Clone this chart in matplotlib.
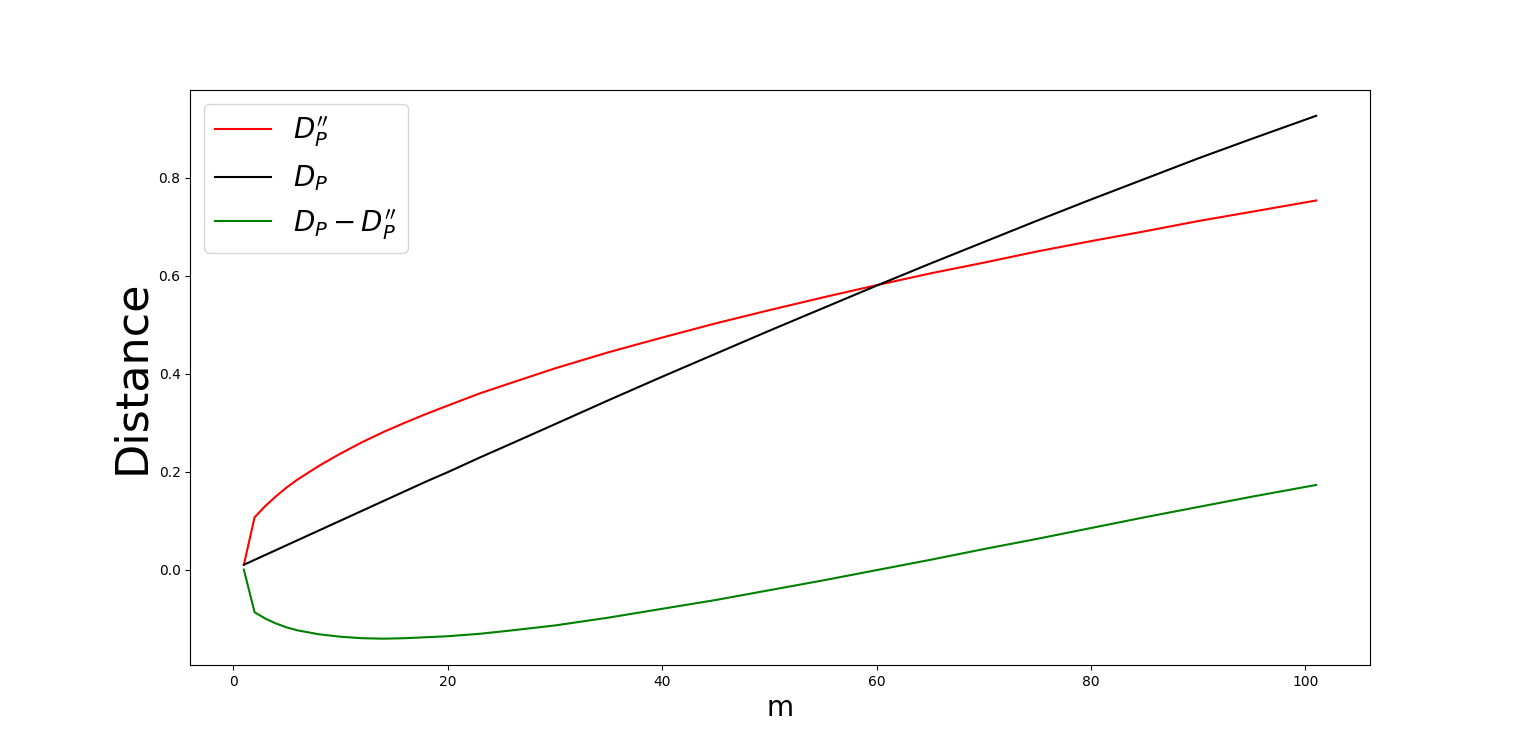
import matplotlib
matplotlib.use("Agg")
import matplotlib.pyplot as plt
import numpy as np

m = [1, 2, 3, 4, 5, 6, 7, 8, 10, 12, 14, 16, 18, 20, 23, 26, 30, 35, 40, 45,
     50, 55, 60, 65, 70, 75, 80, 85, 90, 95, 101]
d_pp = [0.010, 0.107, 0.130, 0.150, 0.168, 0.184, 0.198, 0.212, 0.237, 0.260,
        0.281, 0.300, 0.318, 0.335, 0.360, 0.382, 0.411, 0.444, 0.474, 0.503,
        0.530, 0.556, 0.581, 0.605, 0.627, 0.650, 0.671, 0.691, 0.712, 0.731,
        0.754]
d_p = [0.010, 0.020, 0.030, 0.040, 0.050, 0.060, 0.070, 0.080, 0.100, 0.120,
       0.140, 0.160, 0.180, 0.199, 0.229, 0.258, 0.297, 0.346, 0.394, 0.441,
       0.488, 0.534, 0.580, 0.625, 0.669, 0.713, 0.756, 0.798, 0.840, 0.880,
       0.927]
diff = list(np.array(d_p) - np.array(d_pp))

fig, ax = plt.subplots(figsize=(15.22, 7.47), dpi=100)
ax.plot(m, d_pp, color="red", label=r"$D_P''$")
ax.plot(m, d_p, color="black", label=r"$D_P$")
ax.plot(m, diff, color="green", label=r"$D_P - D_P''$")
ax.set_xlabel("m", fontsize=20)
ax.set_ylabel("Distance", fontsize=32)
ax.set_yticks([0.0, 0.2, 0.4, 0.6, 0.8])
ax.legend(loc="upper left", fontsize=20)
fig.savefig("out.png", dpi=100)
